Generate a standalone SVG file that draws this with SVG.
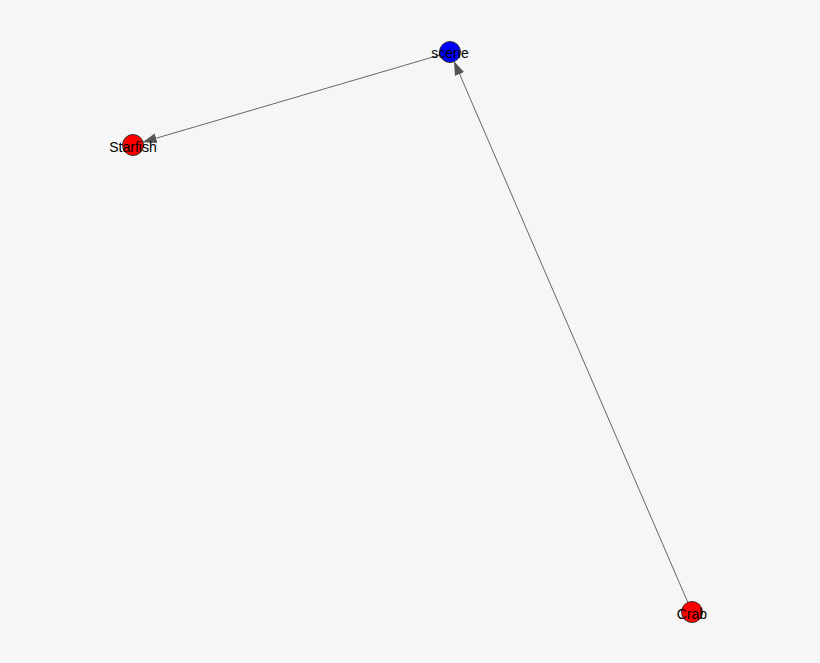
<svg xmlns="http://www.w3.org/2000/svg" width="820" height="663" viewBox="0 0 820 663">
<style>
.edge{stroke:#666;stroke-width:1;fill:none}
.node circle{stroke:#333;stroke-width:1}
.node text{font-family:"Liberation Sans",Arial,sans-serif;font-size:14px;fill:#000;text-anchor:middle}
</style>
<defs>
<marker id="arr" markerWidth="14" markerHeight="10" refX="14" refY="5" orient="auto" markerUnits="userSpaceOnUse">
<path d="M0,0 L14,5 L0,10 z" fill="#555"/>
</marker>
</defs>
<rect width="820" height="663" fill="#f6f6f6"/>
<g id="edges">
<line class="edge" x1="450" y1="52" x2="142.6" y2="142.2" marker-end="url(#arr)"/>
<line class="edge" x1="692" y1="612" x2="454" y2="61.2" marker-end="url(#arr)"/>
</g>
<g id="node-scene" class="node">
<circle cx="450" cy="52" r="10.5" fill="#0000ff"/>
<text x="450" y="58">scene</text>
</g>
<g id="node-starfish" class="node">
<circle cx="133" cy="145" r="10.5" fill="#ff0000"/>
<text x="133" y="152">Starfish</text>
</g>
<g id="node-crab" class="node">
<circle cx="692" cy="612" r="10.5" fill="#ff0000"/>
<text x="692" y="619">Crab</text>
</g>
</svg>
